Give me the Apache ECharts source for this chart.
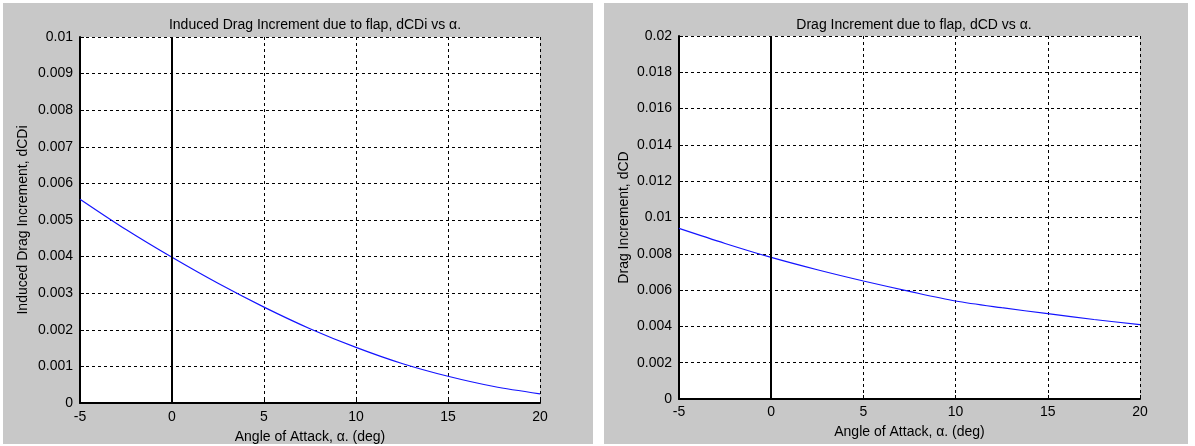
<!DOCTYPE html>
<html>
<head>
<meta charset="utf-8">
<title>Flap drag increments vs angle of attack</title>
<script src="https://cdn.jsdelivr.net/npm/echarts@6/dist/echarts.min.js"></script>
<style>
  html, body { margin: 0; padding: 0; background: #ffffff; }
  #chart { width: 1195px; height: 446px; }
</style>
</head>
<body>
<div id="chart"></div>
<script>
// Angle of attack samples (deg)
const alpha = [-5, -2.5, 0, 2.5, 5, 7.5, 10, 12.5, 15, 17.5, 20];

// Induced drag increment due to flap, dCDi
const dCDi = [0.00557, 0.00474, 0.00398, 0.00327, 0.00262, 0.00203, 0.00152, 0.00108, 0.00073, 0.00045, 0.00025];

// Total drag increment due to flap, dCD
const dCD = [0.0094, 0.00857, 0.0078, 0.00712, 0.0065, 0.00593, 0.0054, 0.00503, 0.0047, 0.00438, 0.0041];

// Axis ticks
const xTicks = [-5, 0, 5, 10, 15, 20];
const yTicksLeft = [0, 0.001, 0.002, 0.003, 0.004, 0.005, 0.006, 0.007, 0.008, 0.009, 0.01];
const yTicksRight = [0, 0.002, 0.004, 0.006, 0.008, 0.01, 0.012, 0.014, 0.016, 0.018, 0.02];

const titles = [
  'Induced Drag Increment due to flap, dCDi vs \u03b1.',
  'Drag Increment due to flap, dCD vs \u03b1.'
];
const xName = 'Angle of Attack, \u03b1. (deg)';
const yNames = ['Induced Drag Increment, dCDi', 'Drag Increment, dCD'];

const FONT = '"Liberation Sans", Arial, sans-serif';
const FS = 14;
const PANEL = '#c8c8c8';

const pairs = (xs, ys) => xs.map((x, i) => [x, ys[i]]);

const gridBoxes = [
  { left: 80, top: 37, width: 460, height: 366 },
  { left: 679, top: 36, width: 461, height: 363 }
];

function xAxisFor(idx) {
  return {
    type: 'value', gridIndex: idx,
    min: xTicks[0], max: xTicks[xTicks.length - 1],
    interval: xTicks[1] - xTicks[0],
    name: xName, nameLocation: 'middle', nameGap: idx === 0 ? 27 : 26,
    nameTextStyle: { color: '#000', fontFamily: FONT, fontSize: FS },
    axisLine: { show: true, onZero: false, lineStyle: { color: '#000', width: 2 } },
    axisTick: { show: true, inside: true, length: 4, lineStyle: { color: '#000' } },
    axisLabel: { color: '#000', fontFamily: FONT, fontSize: FS, margin: idx === 0 ? 7 : 6 },
    splitLine: { show: true, lineStyle: { color: '#000', width: 1, type: [3, 3] } }
  };
}

function yAxisFor(idx, ticks) {
  return {
    type: 'value', gridIndex: idx,
    min: ticks[0], max: ticks[ticks.length - 1],
    interval: ticks[1] - ticks[0],
    name: yNames[idx], nameLocation: 'middle', nameGap: idx === 0 ? 50 : 48,
    nameTextStyle: { color: '#000', fontFamily: FONT, fontSize: FS },
    axisLine: { show: true, onZero: false, lineStyle: { color: '#000', width: 2 } },
    axisTick: { show: true, inside: true, length: 4, lineStyle: { color: '#000' } },
    axisLabel: {
      color: '#000', fontFamily: FONT, fontSize: FS, margin: 7,
      formatter: v => {
        const i = ticks.findIndex(t => Math.abs(t - v) < 1e-9);
        return i >= 0 ? String(ticks[i]) : '';
      }
    },
    splitLine: { show: true, lineStyle: { color: '#000', width: 1, type: [3, 3] } }
  };
}

function curve(idx, data) {
  return {
    type: 'line', xAxisIndex: idx, yAxisIndex: idx,
    data: data, smooth: 0.3, showSymbol: false, symbol: 'none',
    lineStyle: { color: '#1414ff', width: 1.2 },
    markLine: {
      silent: true, symbol: 'none', label: { show: false },
      lineStyle: { color: '#000', width: 2, type: 'solid' },
      data: [{ xAxis: 0 }]
    },
    z: 3
  };
}

const chart = echarts.init(document.getElementById('chart'), null, { renderer: 'canvas' });

chart.setOption({
  backgroundColor: '#ffffff',
  animation: false,
  graphic: [
    { type: 'rect', shape: { x: 3, y: 3, width: 590, height: 441 }, style: { fill: PANEL }, z: -10, silent: true },
    { type: 'rect', shape: { x: 604, y: 3, width: 584, height: 441 }, style: { fill: PANEL }, z: -10, silent: true }
  ],
  title: [
    { text: titles[0], left: 310, top: 13, textAlign: 'center',
      textStyle: { color: '#000', fontFamily: FONT, fontSize: FS, fontWeight: 'normal' } },
    { text: titles[1], left: 909, top: 13, textAlign: 'center',
      textStyle: { color: '#000', fontFamily: FONT, fontSize: FS, fontWeight: 'normal' } }
  ],
  grid: gridBoxes.map(b => Object.assign({
    show: true, backgroundColor: '#ffffff', borderWidth: 0,
    containLabel: false, outerBoundsMode: 'none'
  }, b)),
  xAxis: [xAxisFor(0), xAxisFor(1)],
  yAxis: [yAxisFor(0, yTicksLeft), yAxisFor(1, yTicksRight)],
  series: [curve(0, pairs(alpha, dCDi)), curve(1, pairs(alpha, dCD))]
});
</script>
</body>
</html>
